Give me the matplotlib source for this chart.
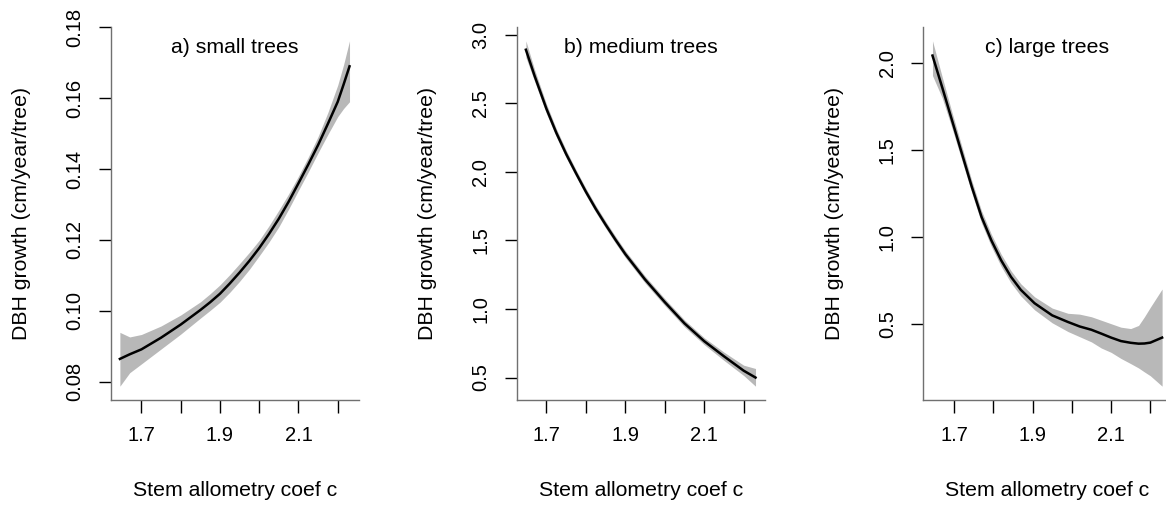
import numpy as np
import matplotlib
matplotlib.use("Agg")
import matplotlib.pyplot as plt

plt.rcParams['font.family'] = ['Liberation Sans', 'DejaVu Sans']

# values (stem allometry coef c vs DBH growth)
small_c = [1.645, 1.67, 1.70, 1.75, 1.80, 1.85, 1.875, 1.90, 1.925, 1.95, 1.975, 2.00,
           2.025, 2.05, 2.075, 2.10, 2.125, 2.15, 2.175, 2.20, 2.215, 2.23]
small_fit = [0.0864, 0.0877, 0.0891, 0.0924, 0.0961, 0.1002, 0.1024, 0.1048, 0.1077, 0.1108, 0.1141, 0.1177,
             0.1217, 0.1260, 0.1308, 0.1360, 0.1413, 0.1468, 0.1528, 0.1590, 0.1639, 0.1690]
small_hi = [0.0939, 0.0926, 0.0933, 0.0957, 0.0988, 0.1025, 0.1048, 0.1073, 0.1102, 0.1133, 0.1165, 0.1199,
            0.1240, 0.1284, 0.1330, 0.1380, 0.1434, 0.1492, 0.1560, 0.1637, 0.1695, 0.1762]
small_lo = [0.0787, 0.0825, 0.0850, 0.0892, 0.0934, 0.0979, 0.1001, 0.1024, 0.1052, 0.1083, 0.1117, 0.1155,
            0.1194, 0.1237, 0.1287, 0.1340, 0.1392, 0.1446, 0.1498, 0.1548, 0.1571, 0.1590]

medium_c = [1.648, 1.67, 1.70, 1.725, 1.75, 1.775, 1.80, 1.825, 1.85, 1.875, 1.90, 1.95,
            2.00, 2.05, 2.10, 2.15, 2.20, 2.23]
medium_fit = [2.89, 2.70, 2.46, 2.285, 2.13, 1.99, 1.855, 1.73, 1.615, 1.505, 1.40, 1.215,
              1.05, 0.895, 0.765, 0.655, 0.55, 0.50]
medium_hi = [2.955, 2.745, 2.495, 2.315, 2.158, 2.015, 1.88, 1.755, 1.64, 1.53, 1.425, 1.24,
             1.075, 0.92, 0.79, 0.685, 0.59, 0.566]
medium_lo = [2.835, 2.66, 2.425, 2.255, 2.102, 1.965, 1.83, 1.705, 1.59, 1.48, 1.375, 1.19,
             1.025, 0.87, 0.74, 0.625, 0.515, 0.437]

large_c = [1.645, 1.67, 1.695, 1.72, 1.745, 1.77, 1.795, 1.82, 1.845, 1.87, 1.905, 1.95,
           1.99, 2.02, 2.05, 2.075, 2.10, 2.125, 2.15, 2.17, 2.185, 2.20, 2.23]
large_fit = [2.045, 1.86, 1.67, 1.48, 1.29, 1.115, 0.98, 0.865, 0.77, 0.695, 0.618, 0.548,
             0.51, 0.484, 0.465, 0.443, 0.42, 0.40, 0.39, 0.385, 0.386, 0.391, 0.42]
large_hi = [2.13, 1.92, 1.715, 1.52, 1.325, 1.15, 1.015, 0.90, 0.805, 0.73, 0.655, 0.59,
            0.56, 0.555, 0.54, 0.52, 0.50, 0.48, 0.472, 0.49, 0.54, 0.595, 0.70]
large_lo = [1.93, 1.80, 1.625, 1.44, 1.255, 1.08, 0.945, 0.83, 0.735, 0.66, 0.58, 0.505,
            0.455, 0.425, 0.395, 0.36, 0.335, 0.30, 0.27, 0.245, 0.222, 0.20, 0.14]

titles = ["a) small trees", "b) medium trees", "c) large trees"]
x_ticks = [1.7, 1.8, 1.9, 2.0, 2.1, 2.2]
x_ticklabels = ["1.7", "", "1.9", "", "2.1", ""]
y_ticks = [[0.08, 0.10, 0.12, 0.14, 0.16, 0.18],
           [0.5, 1.0, 1.5, 2.0, 2.5, 3.0],
           [0.5, 1.0, 1.5, 2.0]]
y_ticklabels = [["0.08", "0.10", "0.12", "0.14", "0.16", "0.18"],
                ["0.5", "1.0", "1.5", "2.0", "2.5", "3.0"],
                ["0.5", "1.0", "1.5", "2.0"]]

xs = [small_c, medium_c, large_c]
fits = [small_fit, medium_fit, large_fit]
his = [small_hi, medium_hi, large_hi]
los = [small_lo, medium_lo, large_lo]

W, H = 1166, 508
fig = plt.figure(figsize=(W / 100, H / 100), dpi=100)

lefts = [110.7, 516.7, 923.3]
pw, ph = 248.0, 373.0
bottom_px = 400.0

for i in range(3):
    ax = fig.add_axes([lefts[i] / W, (H - bottom_px) / H, pw / W, ph / H])
    ax.fill_between(xs[i], los[i], his[i], color='#b8b8b8', linewidth=0)
    ax.plot(xs[i], fits[i], color='black', lw=1.8)
    ax.margins(x=0.04, y=0.04)

    ax.spines['top'].set_visible(False)
    ax.spines['right'].set_visible(False)
    for s in ['left', 'bottom']:
        ax.spines[s].set_color('#707070')
        ax.spines[s].set_linewidth(1.0)

    ax.set_xticks(x_ticks)
    ax.set_xticklabels(x_ticklabels)
    ax.set_yticks(y_ticks[i])
    ax.set_yticklabels(y_ticklabels[i], rotation=90, va='center')
    ax.tick_params(axis='both', direction='out', length=9, width=1, color='black',
                   labelsize=14.5, pad=10)

    ax.set_xlabel("Stem allometry coef c", fontsize=15.3, va='center')
    ax.xaxis.set_label_coords(0.5, -90 / ph)
    ax.set_ylabel("DBH growth (cm/year/tree)", fontsize=15.3, va='center')
    ax.yaxis.set_label_coords(-89 / pw, 0.5)

    ax.text(0.5, 0.946, titles[i], ha='center', va='center', fontsize=15.3,
            transform=ax.transAxes)

fig.savefig("out.png", dpi=100)
